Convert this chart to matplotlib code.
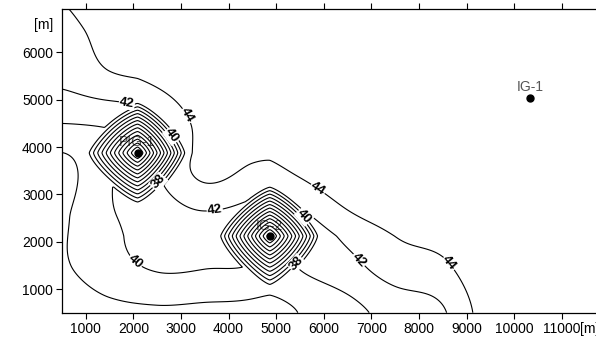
import numpy as np
import matplotlib
matplotlib.use("Agg")
import matplotlib.pyplot as plt

plt.rcParams['font.family'] = ['Liberation Sans', 'DejaVu Sans']

# ---- data -------------------------------------------------------------
# background head surface on a coarse 1000 m grid
GRID_X = [500, 1500, 2500, 3500, 4500, 5500, 6500, 7500, 8500, 9500, 10500, 11500]
GRID_Y = [500, 1500, 2500, 3500, 4500, 5500, 6500, 7500]
ROW_500 = [36.8, 37.5, 37.75, 37.85, 38.4, 38.8, 39.5, 40.8, 41.8, 45.2, 46.5, 47.0]
ROW_1500 = [37.8, 39.4, 40.5, 41.2, 42.5, 42.3, 42.1, 43.2, 43.7, 46.0, 47.0, 47.5]
ROW_2500 = [37.8, 40.2, 41.2, 42.9, 43.8, 43.9, 44.5, 44.8, 45.3, 46.3, 47.0, 47.5]
ROW_3500 = [37.6, 41.0, 43.3, 45.3, 45.0, 45.4, 45.8, 46.2, 46.6, 47.0, 47.3, 47.5]
ROW_4500 = [40.2, 41.2, 43.0, 45.0, 45.5, 46.0, 46.4, 46.7, 47.0, 47.2, 47.4, 47.5]
ROW_5500 = [42.6, 44.0, 44.8, 45.6, 46.0, 46.4, 46.7, 47.0, 47.2, 47.4, 47.5, 47.5]
ROW_6500 = [43.6, 44.6, 45.3, 45.8, 46.2, 46.5, 46.8, 47.0, 47.2, 47.4, 47.5, 47.5]
ROW_7500 = [44.2, 45.2, 45.7, 46.0, 46.3, 46.6, 46.9, 47.1, 47.3, 47.4, 47.5, 47.5]

# pumping wells with drawdown cones
CONE_NAMES = ["PIG-1", "IG-2"]
CONE_X = [2090, 4866]
CONE_Y = [3875, 2120]
CONE_DRAWDOWN = [25.5, 25.5]
CONE_RADIUS = [1050, 1050]
CONE_TAIL = [1.8, 3.4]
CONE_TAIL_RADIUS = [1300, 1600]

# all wells shown on the map
WELL_NAMES = ["PIG-1", "IG-2", "IG-1"]
WELL_X = [2090, 4866, 10330]
WELL_Y = [3875, 2120, 5040]
LABEL_X = [2080, 4860, 10330]
LABEL_Y = [4110, 2330, 5270]

LEVELS = [14, 16, 18, 20, 22, 24, 26, 28, 30, 32, 34, 36, 38, 40, 42, 44]

LABEL_LEVELS = [44, 44, 44, 42, 42, 42, 40, 40, 40, 38, 38]
LABEL_X_POS = [2975, 5716, 8710, 1860, 3720, 6590, 2765, 5500, 2070, 2410, 5290]
LABEL_Y_POS = [4573, 2880, 1613, 4950, 2520, 1460, 4210, 2460, 1610, 3370, 1655]

X_TICKS = [1000, 2000, 3000, 4000, 5000, 6000, 7000, 8000, 9000, 10000, 11000]
Y_TICKS = [1000, 2000, 3000, 4000, 5000, 6000]
XLIM = (500, 11720)
YLIM = (500, 6915)


# ---- surface construction ---------------------------------------------
def catmull_rom_1d(nodes, vals, q):
    nodes = np.asarray(nodes, float)
    vals = np.asarray(vals, float)
    n = len(nodes)
    h = nodes[1] - nodes[0]
    pos = (q - nodes[0]) / h
    i = np.clip(np.floor(pos).astype(int), 0, n - 2)
    t = pos - i
    def v(k):
        return vals[..., np.clip(k, 0, n - 1)]
    p0, p1, p2, p3 = v(i - 1), v(i), v(i + 1), v(i + 2)
    return 0.5 * ((2 * p1) + (-p0 + p2) * t + (2 * p0 - 5 * p1 + 4 * p2 - p3) * t ** 2
                  + (-p0 + 3 * p1 - 3 * p2 + p3) * t ** 3)


bg = np.array([ROW_500, ROW_1500, ROW_2500, ROW_3500, ROW_4500, ROW_5500, ROW_6500, ROW_7500])
xq = np.linspace(XLIM[0], XLIM[1], 700)
yq = np.linspace(YLIM[0], YLIM[1], 420)
tmp = catmull_rom_1d(GRID_X, bg, xq)            # rows x len(xq)
surf = catmull_rom_1d(GRID_Y, tmp.T, yq).T       # len(yq) x len(xq)

XX, YY = np.meshgrid(xq, yq)
for cx, cy, s0, R, tail, rt in zip(CONE_X, CONE_Y, CONE_DRAWDOWN, CONE_RADIUS,
                                    CONE_TAIL, CONE_TAIL_RADIUS):
    p = 1.3
    r = (np.abs(XX - cx) ** p + np.abs(YY - cy) ** p) ** (1.0 / p)
    surf = surf - s0 * np.clip(1 - r / R, 0, None) - tail * np.exp(-(r / rt) ** 2)

# ---- figure -------------------------------------------------------------
fig = plt.figure(figsize=(5.96, 3.40), dpi=100)
ax = fig.add_axes([62 / 596, 1 - 312.7 / 340, 1 - 62 / 596, (312.7 - 9) / 340])
ax.set_xlim(*XLIM)
ax.set_ylim(*YLIM)

cs = ax.contour(XX, YY, surf, levels=LEVELS, colors='black', linewidths=0.8, zorder=2)

# contour labels: placed on the nearest point of the requested level
trans = ax.transData
for lev, lx, ly in zip(LABEL_LEVELS, LABEL_X_POS, LABEL_Y_POS):
    if lev not in list(cs.levels):
        continue
    k = list(cs.levels).index(lev)
    segs = [s for s in cs.allsegs[k] if len(s) > 2]
    if not segs:
        continue
    target = trans.transform((lx, ly))
    best = None
    for s in segs:
        d = trans.transform(s)
        dist = np.hypot(d[:, 0] - target[0], d[:, 1] - target[1])
        j = int(np.argmin(dist))
        if best is None or dist[j] < best[0]:
            best = (dist[j], d, j, s)
    _, d, j, s = best
    j0, j1 = max(j - 3, 0), min(j + 3, len(d) - 1)
    ang = np.degrees(np.arctan2(d[j1, 1] - d[j0, 1], d[j1, 0] - d[j0, 0]))
    if ang > 90:
        ang -= 180
    if ang < -90:
        ang += 180
    ax.text(s[j, 0], s[j, 1], f"{lev}", rotation=ang, rotation_mode='anchor',
            ha='center', va='center', fontsize=9.5, fontweight='bold', zorder=4,
            bbox=dict(boxstyle='square,pad=0.05', fc='white', ec='none'))

ax.plot(WELL_X, WELL_Y, 'o', color='black', markersize=5, zorder=5)
for name, lx, ly in zip(WELL_NAMES, LABEL_X, LABEL_Y):
    ax.text(lx, ly, name, ha='center', va='center', fontsize=10, color='#555555', zorder=1)

ax.set_xticks(X_TICKS)
ax.set_yticks(Y_TICKS)
ax.tick_params(axis='both', direction='out', length=4.5, width=0.8, labelsize=10,
               pad=2, top=True, labeltop=False)
for sp in ax.spines.values():
    sp.set_linewidth(0.9)
ax.spines['right'].set_visible(False)

ax.annotate('[m]', xy=(0, 6580), xycoords=ax.get_yaxis_transform(), xytext=(-6.5, 0),
            textcoords='offset points', ha='right', va='center', fontsize=10)
ax.annotate('[m]', xy=(11000, 0), xycoords=ax.get_xaxis_transform(), xytext=(13.5, -6.5),
            textcoords='offset points', ha='left', va='top', fontsize=10)

fig.savefig('out.png', dpi=100)
